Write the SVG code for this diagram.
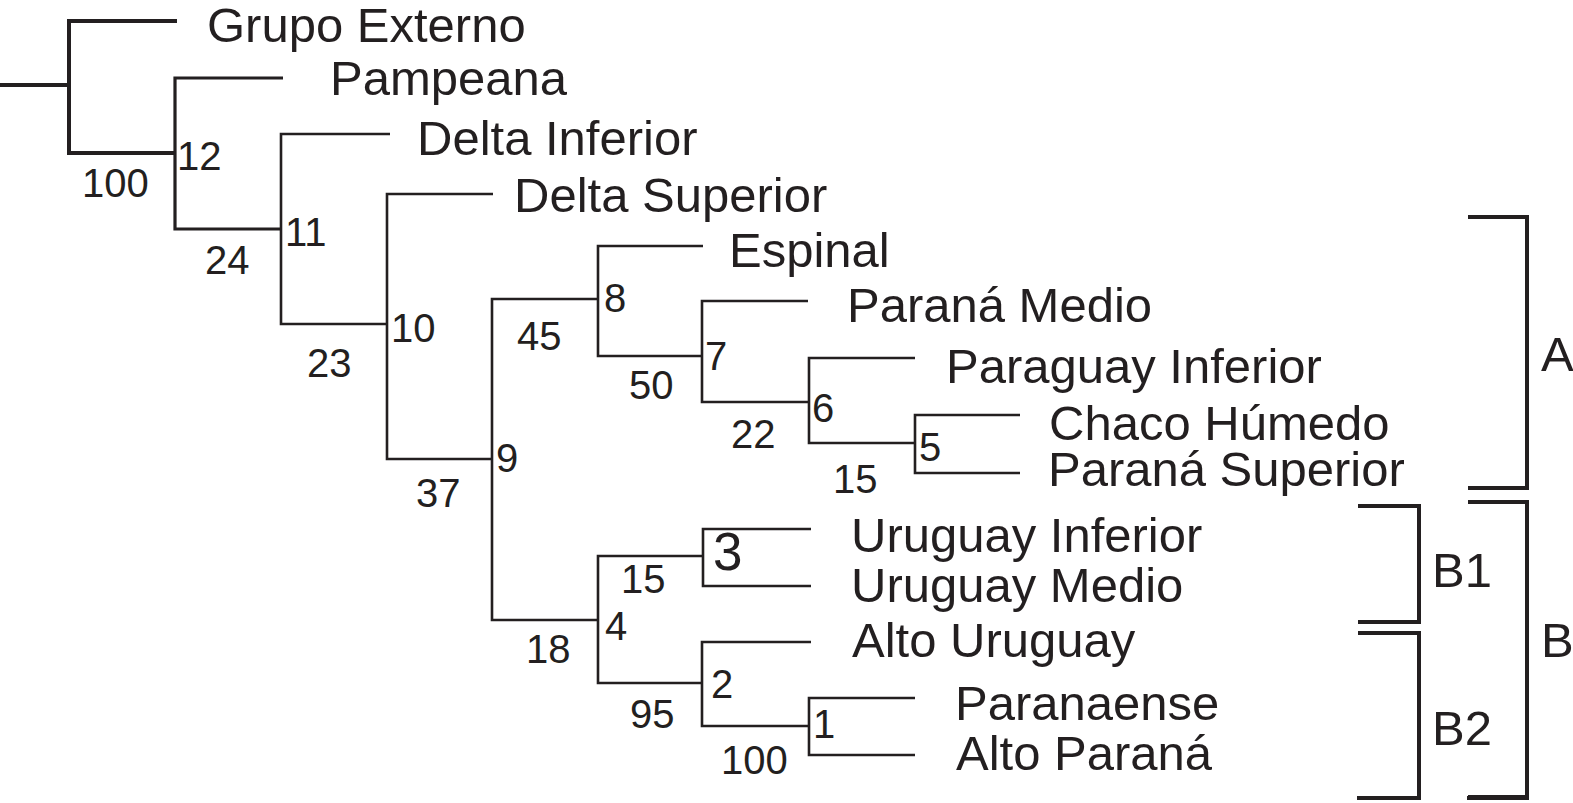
<svg xmlns="http://www.w3.org/2000/svg" width="1573" height="803" viewBox="0 0 1573 803">
<style>
.br{fill:none;stroke:#231f20;stroke-width:2.6;stroke-linejoin:miter;stroke-linecap:butt}
.thick{stroke-width:4}
.mid{stroke-width:3.2}
.bk{fill:none;stroke:#231f20;stroke-width:4;stroke-linecap:butt}
.tx{font-family:"Liberation Sans",Arial,Helvetica,sans-serif;font-size:49px;fill:#231f20}
.num{font-family:"Liberation Sans",Arial,Helvetica,sans-serif;font-size:40px;fill:#231f20}
.big{font-size:53px}
</style>
<rect width="1573" height="803" fill="#ffffff"/>
<g id="connectors">
<path class="br thick" d="M0,85 H69"/>
<path class="br thick" d="M177,21 H69 V153 H175"/>
<path class="br mid" d="M283,78 H175 V229 H281"/>
<path class="br" d="M390,134 H281 V324 H387"/>
<path class="br" d="M493,194 H387 V459 H492"/>
<path class="br" d="M598,299 H492 V620 H598"/>
<path class="br" d="M703,246 H598 V356 H702"/>
<path class="br" d="M808,301 H702 V402 H809"/>
<path class="br" d="M915,358 H809 V443 H915"/>
<path class="br" d="M1020,415 H915 V473 H1020"/>
<path class="br" d="M703,556 H598 V683 H702"/>
<path class="br" d="M811,529 H703 V586 H811"/>
<path class="br" d="M811,642 H702 V726 H809"/>
<path class="br" d="M915,698 H809 V755 H915"/>
</g>
<g id="brackets">
<path class="bk" d="M1468,217 H1527 V488 H1468"/>
<path class="bk" d="M1468,502 H1527 V797 H1468"/>
<path class="bk" d="M1467,798 H1529" stroke-width="6"/>
<path class="bk" d="M1358,506 H1419 V622 H1358"/>
<path class="bk" d="M1358,633 H1419 V798 H1358"/>
<path class="bk" d="M1357,798 H1421" stroke-width="6"/>
<text class="tx" x="1541" y="371">A</text>
<text class="tx" x="1541" y="657">B</text>
<text class="tx" x="1432" y="587">B1</text>
<text class="tx" x="1432" y="745">B2</text>
</g>
<g id="leaf-grupo-externo"><text class="tx" x="207" y="42">Grupo Externo</text></g>
<g id="leaf-pampeana"><text class="tx" x="330" y="95">Pampeana</text></g>
<g id="leaf-delta-inferior"><text class="tx" x="417" y="155">Delta Inferior</text></g>
<g id="leaf-delta-superior"><text class="tx" x="514" y="212">Delta Superior</text></g>
<g id="leaf-espinal"><text class="tx" x="729" y="267">Espinal</text></g>
<g id="leaf-parana-medio"><text class="tx" x="847" y="322">Paraná Medio</text></g>
<g id="leaf-paraguay-inferior"><text class="tx" x="946" y="383">Paraguay Inferior</text></g>
<g id="leaf-chaco-humedo"><text class="tx" x="1049" y="440">Chaco Húmedo</text></g>
<g id="leaf-parana-superior"><text class="tx" x="1048" y="486">Paraná Superior</text></g>
<g id="leaf-uruguay-inferior"><text class="tx" x="851" y="552">Uruguay Inferior</text></g>
<g id="leaf-uruguay-medio"><text class="tx" x="851" y="602">Uruguay Medio</text></g>
<g id="leaf-alto-uruguay"><text class="tx" x="852" y="657">Alto Uruguay</text></g>
<g id="leaf-paranaense"><text class="tx" x="955" y="720">Paranaense</text></g>
<g id="leaf-alto-parana"><text class="tx" x="956" y="770">Alto Paraná</text></g>
<g id="node-12"><text class="num" x="177" y="170">12</text><text class="num" x="82" y="197">100</text></g>
<g id="node-11"><text class="num" x="285" y="246">11</text><text class="num" x="205" y="274">24</text></g>
<g id="node-10"><text class="num" x="391" y="342">10</text><text class="num" x="307" y="377">23</text></g>
<g id="node-9"><text class="num" x="496" y="472">9</text><text class="num" x="416" y="507">37</text></g>
<g id="node-8"><text class="num" x="604" y="312">8</text><text class="num" x="517" y="350">45</text></g>
<g id="node-7"><text class="num" x="705" y="370">7</text><text class="num" x="629" y="399">50</text></g>
<g id="node-6"><text class="num" x="812" y="422">6</text><text class="num" x="731" y="448">22</text></g>
<g id="node-5"><text class="num" x="919" y="461">5</text><text class="num" x="833" y="493">15</text></g>
<g id="node-4"><text class="num" x="605" y="640">4</text><text class="num" x="526" y="663">18</text></g>
<g id="node-3"><text class="num big" x="713" y="570">3</text><text class="num" x="621" y="593">15</text></g>
<g id="node-2"><text class="num" x="711" y="698">2</text><text class="num" x="630" y="728">95</text></g>
<g id="node-1"><text class="num" x="813" y="738">1</text><text class="num" x="721" y="774">100</text></g>
</svg>
